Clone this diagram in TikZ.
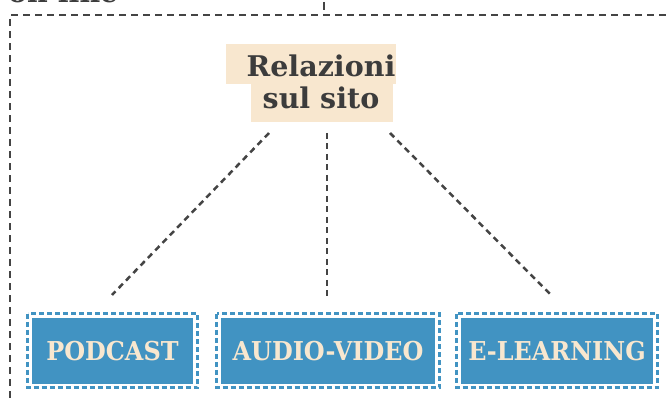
\documentclass[tikz,border=0pt]{standalone}
\usepackage{fontspec}
\setmainfont{DejaVu Serif}
\definecolor{frame}{HTML}{444444}
\definecolor{cream}{HTML}{F8E7CF}
\definecolor{blu}{HTML}{4193C2}
\definecolor{txt}{HTML}{3C3C3C}
\begin{document}
\begin{tikzpicture}[x=1pt,y=-1pt,
  framedash/.style={draw=frame, line width=2.5pt, dash pattern=on 7pt off 5pt},
  link/.style={draw=frame, line width=2.5pt, dash pattern=on 6pt off 4.5pt},
  hl/.style={fill=cream, inner sep=0pt, outer sep=0pt},
  reltext/.style={text=txt, font=\bfseries\fontsize{28.5}{32}\selectfont, inner sep=0pt},
  bluebox/.style={fill=blu, text=cream, font=\bfseries\fontsize{26}{30}\selectfont,
    inner sep=0pt, outer sep=0pt, minimum height=66pt},
  bluedash/.style={draw=blu, line width=3pt, dash pattern=on 5pt off 3pt}
]
\useasboundingbox (0,0) rectangle (667,403);
\clip (0,0) rectangle (667,403);
% partially visible heading
\node[reltext, anchor=base west] (head) at (8,3) {on line};
% frame
\draw[framedash] (10,410) -- (10,15) -- (680,15);
\coordinate (tickTop) at (324,2);
\coordinate (tickBot) at (324,10);
\draw[draw=frame, line width=2.5pt] (tickTop) -- (tickBot);
% Relazioni sul sito
\path[hl] (226,44) rectangle (396,84);
\path[hl] (251,84) rectangle (393,122);
\node[reltext, anchor=base] (rel1) at (321,77) {Relazioni};
\node[reltext, anchor=base] (rel2) at (321,109) {sul sito};
\coordinate (sL) at (269,133);
\coordinate (sM) at (327,133);
\coordinate (sR) at (390,133);
% boxes
\node[bluebox, minimum width=161pt] (pod) at (112.5,351) {\scalebox{0.92}[1]{PODCAST}};
\node[bluebox, minimum width=214pt] (av) at (328,351) {\scalebox{0.92}[1]{AUDIO-VIDEO}};
\node[bluebox, minimum width=192pt] (el) at (557,351) {\scalebox{0.92}[1]{E-LEARNING}};
\foreach \n in {pod,av,el}{
  \draw[bluedash] ([shift={(-4.5,-4)}]\n.north west) rectangle ([shift={(4.5,4)}]\n.south east);
}
\coordinate (eL) at (112,295);
\coordinate (eM) at (327,300);
\coordinate (eR) at (552,296);
\draw[link] (sL) -- (eL);
\draw[link] (sM) -- (eM);
\draw[link] (sR) -- (eR);
\end{tikzpicture}
\end{document}
